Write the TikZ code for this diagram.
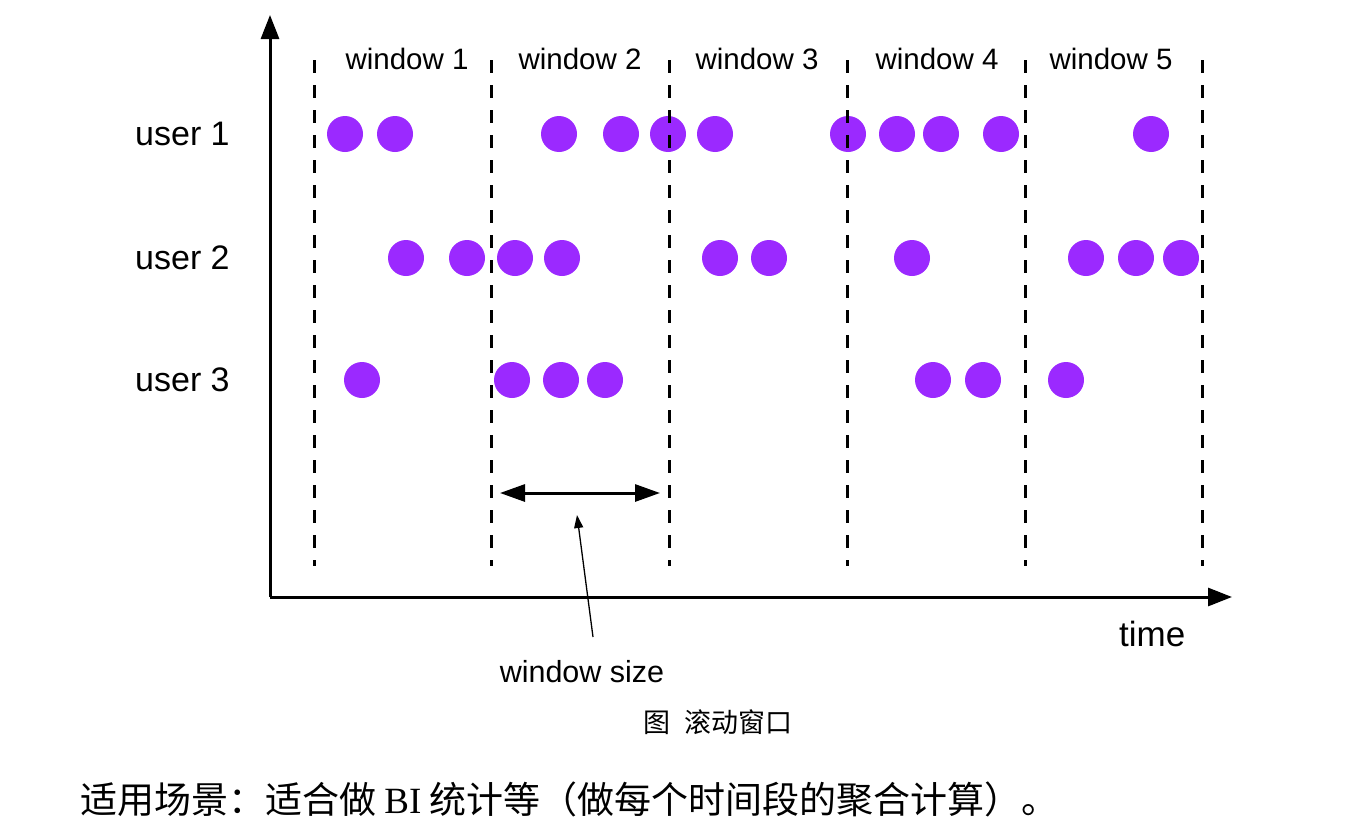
\documentclass[tikz,border=0pt]{standalone}
\usepackage{fontspec}
\setmainfont{Liberation Sans}
\newfontfamily\cjk{Noto Sans CJK SC}
\newfontfamily\serifrm{Liberation Serif}
\usetikzlibrary{arrows.meta}
\definecolor{dotpurple}{RGB}{155,41,255}
\begin{document}
\begin{tikzpicture}[x=1pt,y=-1pt,
  dot/.style={circle,fill=dotpurple,draw=none,minimum size=36pt,inner sep=0pt},
  divider/.style={line width=3pt,dash pattern=on 13pt off 12pt},
  axis/.style={line width=3pt,-{Triangle[length=24pt,width=18pt]}},
  winlabel/.style={anchor=base,font=\fontsize{29.5}{32}\selectfont,inner sep=0pt},
  sizelabel/.style={anchor=base,font=\fontsize{30.5}{33}\selectfont,inner sep=0pt},
  userlabel/.style={anchor=base west,font=\fontsize{34}{37}\selectfont,inner sep=0pt},
  sizearrow/.style={line width=3pt,{Triangle[length=25pt,width=17pt]}-{Triangle[length=25pt,width=17pt]}},
  pointer/.style={line width=1.3pt,-{Triangle[length=13pt,width=9pt]}}]
\useasboundingbox (0,0) rectangle (1350,838);
% axes
\coordinate (origin) at (270,597);
\coordinate (ytip) at (270,15);
\coordinate (xtip) at (1232,597);
% dots
\foreach \x [count=\i] in {345,395,559,621,668,715,848,897,941,1001,1151}
  \node[dot] (ua\i) at (\x,134) {};
\foreach \x [count=\i] in {406,467,515,562,720,769,912,1086,1136,1181}
  \node[dot] (ub\i) at (\x,258) {};
\foreach \x [count=\i] in {362,512,561,605,933,983,1066}
  \node[dot] (uc\i) at (\x,380) {};
% dividers
\foreach \x [count=\i] in {314,491,669,847,1025,1202} {
  \coordinate (dt\i) at (\x,60);
  \coordinate (db\i) at (\x,566);
  \draw[divider] (dt\i) -- (db\i);
}
\draw[axis] (origin) -- (ytip);
\draw[axis] (origin) -- (xtip);
% labels
\node[winlabel] (w1) at (407,69) {window 1};
\node[winlabel] (w2) at (580,69) {window 2};
\node[winlabel] (w3) at (757,69) {window 3};
\node[winlabel] (w4) at (937,69) {window 4};
\node[winlabel] (w5) at (1111,69) {window 5};
\node[userlabel] (l1) at (135,145) {user 1};
\node[userlabel] (l2) at (135,269) {user 2};
\node[userlabel] (l3) at (135,391) {user 3};
\node[userlabel,font=\fontsize{35}{38}\selectfont] (tm) at (1119,646) {time};
% window size arrow
\coordinate (sl) at (500,493);
\coordinate (sr) at (660,493);
\draw[sizearrow] (sl) -- (sr);
\node[sizelabel] (ws) at (582,682) {window size};
\coordinate (pb) at (593,637);
\coordinate (pt) at (577,515);
\draw[pointer] (pb) -- (pt);
% caption
\node[anchor=base,inner sep=0pt,font=\cjk\fontsize{27}{30}\selectfont] (cap) at (718,732) {图\hspace{15pt}滚动窗口};
\node[anchor=base west,inner sep=0pt,font=\cjk\fontsize{37}{40}\selectfont] (note) at (80,813) {适用场景：适合做 {\serifrm BI} 统计等（做每个时间段的聚合计算）。};
\end{tikzpicture}
\end{document}
